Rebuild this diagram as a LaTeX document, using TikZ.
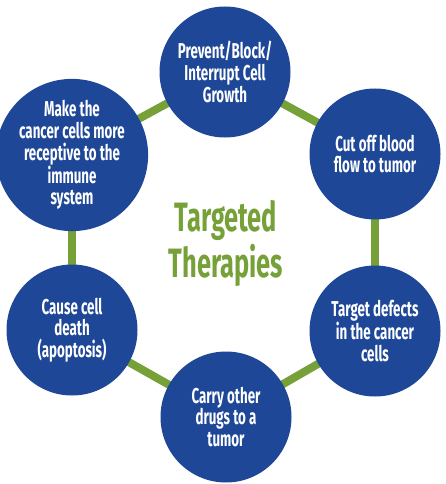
\documentclass[tikz,border=0pt]{standalone}
\usepackage{fontspec}
\setmainfont{Fira Sans}[FakeStretch=0.62]
\usetikzlibrary{backgrounds}
\definecolor{therablue}{RGB}{30,71,151}
\definecolor{theragreen}{RGB}{118,160,56}

\begin{document}
\begin{tikzpicture}[x=1pt,y=-1pt,
  bubble/.style={circle,fill=therablue,minimum size=131pt,inner sep=0pt,
    text=white,align=center,font=\bfseries\fontsize{21.5}{21.7}\selectfont},
  link/.style={theragreen,line width=8pt}]
 \useasboundingbox (0,0) rectangle (445,484);
 % the six ways
 \node[bubble] (grow)   at (225,72)  {Prevent/Block/\\Interrupt Cell\\Growth};
 \node[bubble] (blood)  at (375,154) {Cut off blood\\flow to tumor};
 \node[bubble] (defect) at (375,331) {Target defects\\in the cancer\\cells};
 \node[bubble] (carry)  at (226,417) {Carry other\\drugs to a\\tumor};
 \node[bubble] (death)  at (72,330)  {Cause cell\\death\\(apoptosis)};
 \node[bubble] (immune) at (72,155)  {Make the\\cancer cells more\\receptive to the\\immune\\system};
 \node[theragreen,align=center,font=\bfseries\fontsize{41}{46}\selectfont]
   (title) at (226,243) {Targeted\\Therapies};
 \begin{pgfonlayer}{background}
  \foreach \a/\b in {grow/blood, blood/defect, defect/carry, carry/death, death/immune, immune/grow}
   \draw[link] (\a.center) -- (\b.center);
 \end{pgfonlayer}
\end{tikzpicture}
\end{document}
